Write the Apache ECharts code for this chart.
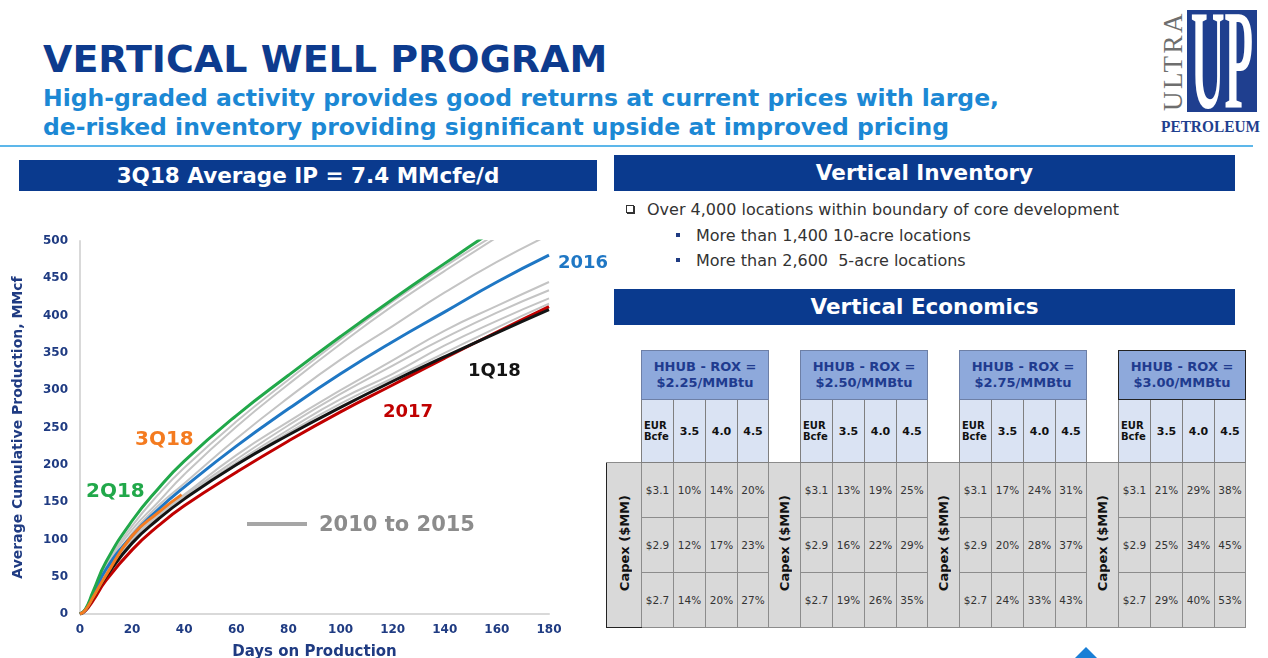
<!DOCTYPE html>
<html>
<head>
<meta charset="utf-8">
<script src="https://cdn.jsdelivr.net/npm/echarts/dist/echarts.min.js"></script>
<style>
body{margin:0;width:1268px;height:658px;position:relative;overflow:hidden;background:#fff;font-family:"DejaVu Sans",Verdana,sans-serif;}
.abs{position:absolute;white-space:nowrap;}
#title{left:43px;top:40px;font-size:38px;line-height:1;font-weight:bold;color:#0D3B8E;}
#sub{left:43px;top:84px;font-size:23.5px;line-height:29px;font-weight:bold;color:#1C88D4;}
#rule{left:0;top:145px;width:1253px;height:2px;background:#5DB7EA;}
.bar{position:absolute;background:#0A3A8E;color:#fff;font-weight:bold;text-align:center;white-space:nowrap;}
#bar1{left:19px;top:160px;width:578px;height:31px;line-height:31px;font-size:21.5px;}
#bar2{left:614px;top:155px;width:621px;height:36px;line-height:36px;font-size:21.5px;}
#bar3{left:614px;top:289px;width:621px;height:36px;line-height:36px;font-size:21.5px;}
.txt{position:absolute;white-space:nowrap;font-size:16px;color:#333;line-height:20px;}
.chk{display:inline-block;width:6px;height:6px;border:1px solid #333;box-shadow:1px 1px 0 #333;vertical-align:2px;margin-right:13px;}
.sq{display:inline-block;width:4px;height:4px;background:#1F3B82;vertical-align:4px;margin-right:16px;}
#chart{position:absolute;left:0;top:230px;width:620px;height:428px;}
#tbl{position:absolute;left:606px;top:350px;border-collapse:collapse;table-layout:fixed;}
#tbl td{padding:0;text-align:center;overflow:hidden;}
#tbl td.hd{background:#8EA9DB;border:1px solid #6D7FA6;color:#1F3B8F;font-weight:bold;font-size:13px;line-height:16px;height:48px;}
#tbl td.hd4{border-color:#222;}
#tbl td.sh{background:#DAE3F3;border:1px solid #7F7F7F;color:#111;font-weight:bold;font-size:11px;height:62px;}
#tbl td.eur{font-size:10px;line-height:11px;text-align:left;padding-left:2px;}
#tbl td.bd{background:#D9D9D9;border:1px solid #8C8C8C;color:#333;font-size:10.5px;height:54px;}
#tbl td.cap{background:#D9D9D9;border:1px solid #8C8C8C;}
#tbl td.cap1{border-left:1px solid #222;border-bottom:1px solid #222;}
.vt{display:inline-block;writing-mode:vertical-rl;transform:rotate(180deg);font-weight:bold;font-size:13px;color:#111;}
#logo{position:absolute;left:1187px;top:10px;width:70px;height:102px;background:#1F3F8F;overflow:hidden;}
#up{position:absolute;left:-60px;top:-21px;width:190px;text-align:center;font-family:"Liberation Serif",serif;font-weight:bold;font-size:142px;line-height:1;color:#fff;transform:scaleX(0.33);transform-origin:center;}
#ultra{position:absolute;left:1160px;top:11px;width:26px;height:100px;}
#ultra span{display:inline-block;writing-mode:vertical-rl;transform:rotate(180deg);font-family:"Liberation Serif",serif;font-size:27px;color:#6E6E6E;letter-spacing:2.5px;line-height:26px;}
#petro{left:1161px;top:118px;font-family:"Liberation Serif",serif;font-weight:bold;font-size:16px;color:#1F3F8F;transform:scaleX(0.96);transform-origin:left;}
#tri{position:absolute;left:1074px;top:647px;width:0;height:0;border-left:12px solid transparent;border-right:12px solid transparent;border-bottom:12px solid #1A7FD6;}
</style>
</head>
<body>
<div id="title" class="abs">VERTICAL WELL PROGRAM</div>
<div id="sub" class="abs">High-graded activity provides good returns at current prices with large,<br>de-risked inventory providing significant upside at improved pricing</div>
<div id="rule" class="abs"></div>
<div id="ultra"><span>ULTRA</span></div>
<div id="logo"><div id="up">UP</div></div>
<div id="petro" class="abs">PETROLEUM</div>

<div id="bar1" class="bar">3Q18 Average IP = 7.4 MMcfe/d</div>
<div id="bar2" class="bar">Vertical Inventory</div>
<div id="bar3" class="bar">Vertical Economics</div>

<div class="txt" style="left:626px;top:200px;"><span class="chk"></span>Over 4,000 locations within boundary of core development</div>
<div class="txt" style="left:676px;top:226px;"><span class="sq"></span>More than 1,400 10-acre locations</div>
<div class="txt" style="left:676px;top:251px;"><span class="sq"></span>More than 2,600&nbsp; 5-acre locations</div>

<table id="tbl"></table>
<div id="chart"></div>
<div id="tri"></div>

<script>
// 曲线数据：生产天数与平均累计产量 (MMcf)
var days = [0, 2, 5, 10, 20, 30, 40, 60, 80, 100, 120, 140, 160, 180];
var q2_18 = [0, 6, 30, 70, 125, 168, 205, 266, 320, 372, 422, 470, 517, 562];
var yr2016 = [0, 5, 25, 60, 105, 140, 170, 225, 275, 322, 365, 405, 445, 481];
var q1_18 = [0, 5, 22, 50, 95, 127, 154, 200, 240, 277, 312, 345, 377, 408];
var yr2017 = [0, 4, 18, 45, 86, 118, 145, 190, 232, 271, 307, 343, 378, 412];
var days3Q = [0, 2, 5, 10, 20, 30, 39];
var q3_18 = [0, 5, 22, 52, 105, 136, 160];
// 2010 - 2015 灰线
var grayLines = [
    [0, 6, 29, 67, 118, 160, 196, 258, 314, 368, 419, 466, 510, 553],
    [0, 5, 27, 63, 113, 150, 187, 251, 308, 362, 413, 460, 505, 548],
    [0, 5, 25, 58, 108, 145, 175, 235, 290, 341, 386, 431, 472, 508],
    [0, 5, 23, 55, 101, 133, 160, 213, 258, 300, 340, 380, 413, 445],
    [0, 5, 22, 53, 100, 131, 158, 207, 253, 295, 333, 370, 404, 434],
    [0, 5, 22, 52, 99, 129, 156, 203, 247, 288, 322, 360, 393, 423],
    [0, 5, 22, 51, 98, 128, 155, 200, 243, 282, 316, 350, 384, 416]
];

// 经济性表格数据
var priceDecks = ['$2.25/MMBtu', '$2.50/MMBtu', '$2.75/MMBtu', '$3.00/MMBtu'];
var eurBcfe = ['3.5', '4.0', '4.5'];
var capexRows = ['$3.1', '$2.9', '$2.7'];
var ror = [
    [[10, 14, 20], [12, 17, 23], [14, 20, 27]],
    [[13, 19, 25], [16, 22, 29], [19, 26, 35]],
    [[17, 24, 31], [20, 28, 37], [24, 33, 43]],
    [[21, 29, 38], [25, 34, 45], [29, 40, 53]]
];

// 生成表格
var html = '<colgroup>';
for (var g = 0; g < 4; g++) {
    html += '<col style="width:' + (g == 0 ? 35 : 32) + 'px"><col style="width:32px"><col style="width:32px"><col style="width:32px"><col style="width:31px">';
}
html += '</colgroup><tr>';
for (var g = 0; g < 4; g++) {
    html += '<td></td><td colspan="4" class="hd' + (g == 3 ? ' hd4' : '') + '">HHUB - ROX =<br>' + priceDecks[g] + '</td>';
}
html += '</tr><tr>';
for (var g = 0; g < 4; g++) {
    html += '<td></td><td class="sh eur">EUR<br>Bcfe</td>';
    for (var k = 0; k < eurBcfe.length; k++) html += '<td class="sh">' + eurBcfe[k] + '</td>';
}
html += '</tr>';
for (var r = 0; r < capexRows.length; r++) {
    html += '<tr>';
    for (var g = 0; g < 4; g++) {
        if (r == 0) html += '<td rowspan="3" class="cap' + (g == 0 ? ' cap1' : '') + '"><span class="vt">Capex ($MM)</span></td>';
        html += '<td class="bd">' + capexRows[r] + '</td>';
        for (var k = 0; k < 3; k++) html += '<td class="bd">' + ror[g][r][k] + '%</td>';
    }
    html += '</tr>';
}
document.getElementById('tbl').innerHTML = html;

// echarts 图表
var font = 'DejaVu Sans';
var myChart = echarts.init(document.getElementById('chart'));

function pairs(xs, ys) {
    return xs.map(function (d, i) { return [d, ys[i]]; });
}
function lineSeries(name, xs, ys, color, width) {
    return {
        name: name,
        type: 'line',
        data: pairs(xs, ys),
        smooth: true,
        symbol: 'none',
        silent: true,
        lineStyle: { color: color, width: width }
    };
}

var series = [];
grayLines.forEach(function (g, i) {
    series.push(lineSeries('gray' + i, days, g, '#C4C4C4', 2));
});
series.push(lineSeries('2017', days, yr2017, '#C00000', 3));
series.push(lineSeries('1Q18', days, q1_18, '#141414', 3));
series.push(lineSeries('2016', days, yr2016, '#1F77C4', 3));
series.push(lineSeries('2Q18', days, q2_18, '#21A84A', 3));
series.push(lineSeries('3Q18', days3Q, q3_18, '#F47B20', 3));

var labelStyle = function (text, x, y, color, size) {
    return {
        type: 'text', left: x, top: y,
        style: { text: text, fill: color, font: 'bold ' + size + 'px "' + font + '"' }
    };
};

option = {
    animation: false,
    grid: { left: 80, right: 71, top: 11, bottom: 44, outerBoundsMode: 'none', containLabel: false },
    xAxis: {
        type: 'value', min: 0, max: 180, interval: 20,
        axisLine: { lineStyle: { color: '#D9D9D9', width: 2 } },
        axisTick: { show: false },
        splitLine: { show: false },
        axisLabel: { color: '#1F3B82', fontWeight: 'bold', fontSize: 12, fontFamily: font, margin: 10 },
        name: 'Days on Production', nameLocation: 'middle', nameGap: 31,
        nameTextStyle: { color: '#1F3B82', fontWeight: 'bold', fontSize: 15, fontFamily: font }
    },
    yAxis: {
        type: 'value', min: 0, max: 500, interval: 50,
        axisLine: { show: true, lineStyle: { color: '#D9D9D9', width: 2 } },
        axisTick: { show: false },
        splitLine: { show: false },
        axisLabel: { color: '#1F3B82', fontWeight: 'bold', fontSize: 12, fontFamily: font, margin: 12 },
        name: 'Average Cumulative Production, MMcf', nameLocation: 'middle', nameGap: 55,
        nameTextStyle: { color: '#1F3B82', fontWeight: 'bold', fontSize: 14, fontFamily: font }
    },
    graphic: [
        labelStyle('2016', 558, 24, '#1F77C4', 18),
        labelStyle('1Q18', 468, 132, '#141414', 18),
        labelStyle('2017', 383, 173, '#C00000', 18),
        labelStyle('3Q18', 135, 200, '#F47B20', 20),
        labelStyle('2Q18', 86, 252, '#21A84A', 20),
        { type: 'line', shape: { x1: 247, y1: 294, x2: 307, y2: 294 }, style: { stroke: '#A6A6A6', lineWidth: 4 } },
        labelStyle('2010 to 2015', 319, 285, '#8C8C8C', 21)
    ],
    series: series
};
myChart.setOption(option);
</script>
</body>
</html>
